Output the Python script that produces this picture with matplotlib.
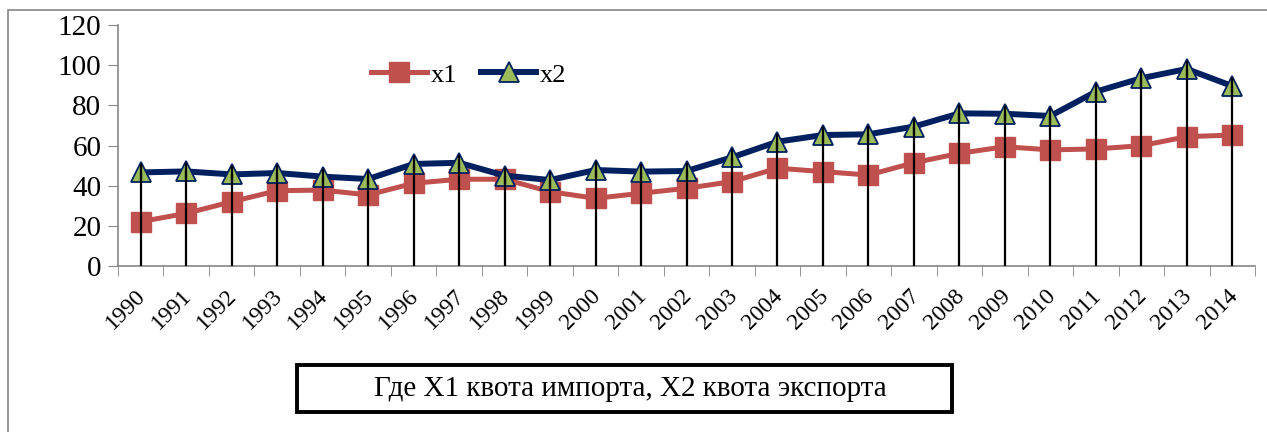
import numpy as np
import matplotlib
matplotlib.use("Agg")
import matplotlib.pyplot as plt
import matplotlib.transforms as mtransforms
from matplotlib.patches import Rectangle

plt.rcParams['font.family'] = 'serif'
plt.rcParams['font.serif'] = ['Liberation Serif', 'DejaVu Serif']

years = [str(y) for y in range(1990, 2015)]
x1 = [22.1, 26.2, 32.0, 37.5, 37.8, 35.4, 41.2, 43.2, 43.2, 37.0, 33.7, 36.2, 38.7,
      42.0, 48.7, 47.0, 45.3, 51.4, 56.1, 59.4, 57.8, 58.3, 59.9, 64.4, 65.2]
x2 = [46.6, 47.1, 45.6, 46.3, 44.5, 43.3, 50.8, 51.4, 45.0, 42.8, 47.8, 47.0, 47.3,
      54.1, 61.9, 65.2, 65.6, 69.4, 76.0, 75.8, 74.7, 86.8, 93.5, 98.1, 89.6]

fig = plt.figure(figsize=(12.67, 4.32), dpi=100)
ax = fig.add_axes([118/1267, 1 - 266/432, 1137/1267, 241/432])

xs = np.arange(len(years))
ax.plot(xs, x1, color='#C0504D', lw=3.6, marker='s', ms=14, mec='#C0504D',
        mfc='#C0504D', label='x1', zorder=3)
ax.plot(xs, x2, color='#002060', lw=4.3, marker='^', ms=15, mec='#002060',
        mfc='#9BBB59', mew=1.3, label='x2', zorder=4)
# drop lines from the axis up through the triangles
ax.vlines(xs, 0, x2, color='black', lw=1.6, zorder=5)
ax.plot(xs, x2, ls='none', marker='|', ms=11, mew=1.6, color='black', zorder=5)

ax.set_xlim(-0.5, len(years) - 0.5)
ax.set_ylim(0, 120)
ax.set_yticks(range(0, 121, 20))
ax.tick_params(axis='y', labelsize=21, length=7, color='#868686', pad=5)
ax.set_xticks(xs)
ax.set_xticklabels(years, rotation=45, ha='right', va='center',
                   rotation_mode='anchor', fontsize=17)
ax.tick_params(axis='x', length=0, pad=0)
ax.set_xticks(np.arange(-0.5, len(years), 1), minor=True)
ax.tick_params(axis='x', which='minor', length=7, color='#868686')
off = mtransforms.ScaledTranslation(2/100, -27/100, fig.dpi_scale_trans)
for lab in ax.get_xticklabels():
    lab.set_transform(lab.get_transform() + off)

for s in ['top', 'right']:
    ax.spines[s].set_visible(False)
for s in ['left', 'bottom']:
    ax.spines[s].set_color('#868686')
    ax.spines[s].set_linewidth(1.2)

ax.legend(loc='center left', bbox_to_anchor=(358/1267, 1 - 75/432),
          bbox_transform=fig.transFigure, ncol=2, frameon=False, fontsize=19,
          borderpad=0, handlelength=2.1, handletextpad=0.15, columnspacing=0.9)

fig.patches.append(Rectangle((8/1267, -0.2), 1.2, 1.2 - 10/432, transform=fig.transFigure,
                             fill=False, edgecolor='#868686', lw=1.2))
fig.patches.append(Rectangle((297/1267, 1 - 412/432), 655/1267, 47/432,
                             transform=fig.transFigure, fill=False,
                             edgecolor='black', lw=2.8))
fig.text(630/1267, 1 - 389/432, 'Где X1 квота импорта, X2 квота экспорта',
         ha='center', va='center', fontsize=21)

fig.savefig('out.png', dpi=100)
